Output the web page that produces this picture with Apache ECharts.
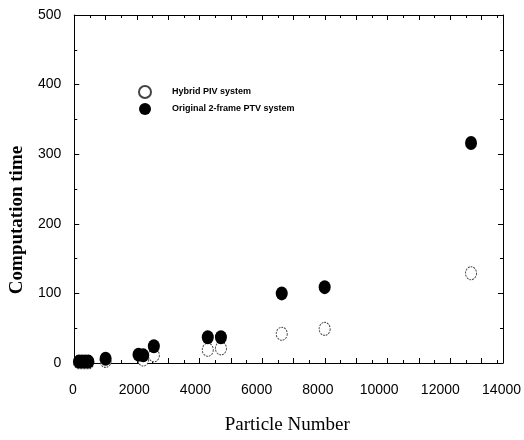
<!DOCTYPE html>
<html><head><meta charset="utf-8">
<script src="https://cdn.jsdelivr.net/npm/echarts@6/dist/echarts.min.js"></script>
<style>html,body{margin:0;padding:0;background:#fff}#c{width:524px;height:440px}</style>
</head><body><div id="c"></div>
<script>
// Data
const hybridX = [150, 250, 350, 450, 1000, 2200, 2540, 4260, 4680, 6620, 7990, 12660];
const hybridY = [1, 1, 1, 1, 3, 5, 11, 19, 21, 42, 49, 129];
const ptvX = [150, 250, 350, 450, 1000, 2050, 2200, 2540, 4260, 4680, 6620, 7990, 12660];
const ptvY = [2, 2, 2, 2, 6, 12, 11, 24, 37, 37, 100, 109, 316];
const xTicks = [0, 2000, 4000, 6000, 8000, 10000, 12000, 14000];
const yTicks = [0, 100, 200, 300, 400, 500];
const seriesNames = ['Hybrid PIV system', 'Original 2-frame PTV system'];

const zip = (xs, ys) => xs.map((x, i) => [x, ys[i]]);
const tickFont = {color: '#000', fontFamily: '"Liberation Sans", Arial, sans-serif', fontSize: 14, formatter: v => String(v)};

const chart = echarts.init(document.getElementById('c'), null, {renderer: 'canvas'});
const frameAxis = () => ({
  axisLine: {show: true, onZero: false, lineStyle: {color: '#000', width: 1}},
  axisTick: {show: true, inside: true, length: 5, lineStyle: {color: '#000'}},
  minorTick: {show: true, splitNumber: 2, length: 3, lineStyle: {color: '#000'}},
  splitLine: {show: false}
});
chart.setOption({
  animation: false,
  backgroundColor: '#fff',
  grid: [
    {left: 73, top: 15, width: 430, height: 348},
    {left: 73, top: 15, width: 440, height: 348}
  ],
  legend: {
    orient: 'vertical', left: 133, top: 80, itemGap: 4, itemWidth: 12, itemHeight: 13,
    data: seriesNames,
    textStyle: {color: '#000', fontFamily: '"Liberation Sans", Arial, sans-serif', fontSize: 9, fontWeight: 'bold', padding: [0, 0, 0, 16]}
  },
  xAxis: [
    Object.assign({gridIndex: 0, type: 'value', min: 0, max: 13680, interval: 1000, position: 'bottom', axisLabel: {show: false}}, frameAxis()),
    Object.assign({gridIndex: 0, type: 'value', min: 0, max: 13680, interval: 1000, position: 'top', axisLabel: {show: false}}, frameAxis()),
    {gridIndex: 1, type: 'value', min: xTicks[0], max: xTicks[xTicks.length - 1], interval: 2000, position: 'bottom',
     axisLine: {show: false, onZero: false}, axisTick: {show: false}, splitLine: {show: false},
     axisLabel: Object.assign({margin: 21, showMaxLabel: true}, tickFont),
     name: 'Particle Number', nameLocation: 'middle', nameGap: 54,
     nameTextStyle: {color: '#000', fontFamily: '"Liberation Serif", "Times New Roman", serif', fontSize: 19}}
  ],
  yAxis: [
    Object.assign({gridIndex: 0, type: 'value', min: yTicks[0], max: yTicks[yTicks.length - 1], interval: 100, position: 'left',
      axisLabel: Object.assign({margin: 13}, tickFont),
      name: 'Computation time', nameLocation: 'middle', nameGap: 43,
      nameTextStyle: {color: '#000', fontFamily: '"Liberation Serif", "Times New Roman", serif', fontSize: 19, fontWeight: 'bold', padding: [0, 62, 0, 0]}}, frameAxis()),
    Object.assign({gridIndex: 0, type: 'value', min: 0, max: 500, interval: 100, position: 'right', axisLabel: {show: false}}, frameAxis()),
    {gridIndex: 1, type: 'value', min: 0, max: 500, show: false}
  ],
  series: [
    {name: seriesNames[0], type: 'scatter', xAxisIndex: 0, yAxisIndex: 0, symbol: 'circle', symbolSize: [11, 13],
     itemStyle: {color: '#fff', borderColor: '#444', borderWidth: 1, borderType: [2, 1], opacity: 1},
     data: zip(hybridX, hybridY), z: 2},
    {name: seriesNames[1], type: 'scatter', xAxisIndex: 0, yAxisIndex: 0, symbol: 'circle', symbolSize: [12, 14],
     itemStyle: {color: '#000', opacity: 1},
     data: zip(ptvX, ptvY), z: 3}
  ]
});
</script></body></html>
